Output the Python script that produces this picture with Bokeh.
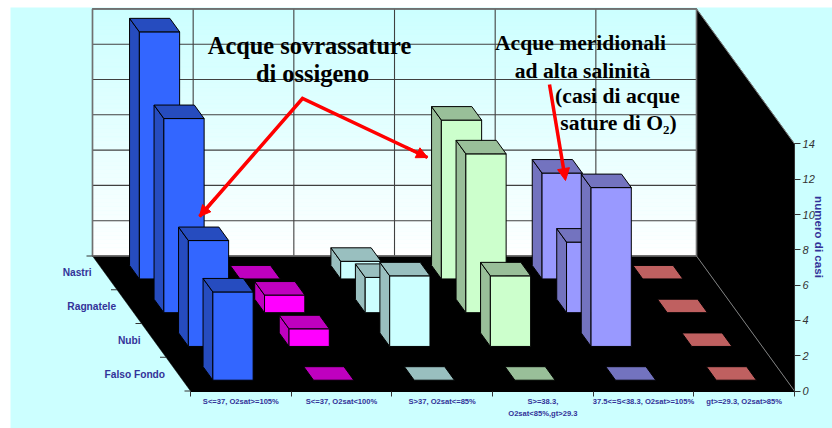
from bokeh.plotting import figure
from bokeh.models import Range1d, LinearAxis, FixedTicker, Arrow, NormalHead, ColumnDataSource
from bokeh.core.properties import value
from bokeh.embed import file_html
from bokeh.resources import INLINE
import math

categories = ["S<=37, O2sat>=105%", "S<=37, O2sat<100%", "S>37, O2sat<=85%",
              "S>=38.3,\nO2sat<85%,gt>29.3", "37.5<=S<38.3, O2sat>=105%", "gt>=29.3, O2sat>85%"]
rows = ["Falso Fondo", "Nubi", "Ragnatele", "Nastri"]
falso_fondo = [5, 0, 0, 0, 0, 0]
nubi = [6, 1, 4, 4, 9, 0]
ragnatele = [11, 1, 2, 9, 4, 0]
nastri = [14, 0, 1, 9, 6, 0]
series = [falso_fondo, nubi, ragnatele, nastri]
value_ticks = [0, 2, 4, 6, 8, 10, 12, 14]
front_colors = ["#3366FF", "#FF00FF", "#CCFFFF", "#CCFFCC", "#9999FF", "#FF8080"]
dark_colors = ["#264CBF", "#BF00BF", "#99BFBF", "#99BF99", "#7373BF", "#BF6060"]

# oblique projection: category position, depth row, value -> page pixels
X0, Y0 = 190.0, 390.5
CAT_W, ROW_DX, ROW_DY, UNIT = 100.67, 24.5, 33.75, 17.65
def px(c, d):
    return X0 + c * CAT_W - d * ROW_DX
def py(d, v):
    return Y0 - d * ROW_DY - v * UNIT

LEFT, TOP, RIGHT, BOTTOM = 10.0, 7.0, 832.0, 428.0
p = figure(width=822, height=421, output_backend="svg", toolbar_location=None,
           x_range=Range1d(LEFT, RIGHT), y_range=Range1d(BOTTOM, TOP),
           x_axis_type=None, y_axis_type=None,
           min_border_left=0, min_border_top=0, min_border_right=0, min_border_bottom=0)
p.margin = (7, 0, 0, 10)
p.background_fill_color = "#CCFFFF"
p.border_fill_color = "#CCFFFF"
p.outline_line_color = None

# scales for the real axes
p.extra_y_ranges["val"] = Range1d((Y0 - BOTTOM) / UNIT, (Y0 - TOP) / UNIT)
p.extra_x_ranges["cat"] = Range1d((LEFT - X0) / CAT_W, (RIGHT - X0) / CAT_W)

# back wall gradient
n = 60
D = len(rows)
for i in range(n):
    v0, v1 = 14 * i / n, 14 * (i + 1) / n
    f = (i + 0.5) / n
    r = int(round(255 - 51 * f))
    col = "#%02XFFFF" % r
    p.quad(left=px(0, D), right=px(6, D), bottom=py(D, v0), top=py(D, v1), fill_color=col, line_color=col, line_width=0.5)

# wall grid
for v in value_ticks:
    p.line([px(0, D), px(6, D)], [py(D, v), py(D, v)], line_color="#404040", line_width=1.1)
for c in range(7):
    p.line([px(c, D), px(c, D)], [py(D, 0), py(D, 14)], line_color="#404040", line_width=1.1)

# floor and side wall
p.patch([px(0, D), px(6, D), px(6, 0), px(0, 0)], [py(D, 0), py(D, 0), py(0, 0), py(0, 0)], fill_color="black", line_color="black", line_width=0.5)
p.patch([px(6, D), px(6, 0), px(6, 0), px(6, D)], [py(D, 14), py(0, 14), py(0, 0), py(D, 0)], fill_color="black", line_color="black", line_width=0.5)
p.line([px(0, D), px(6, D), px(6, D), px(0, D), px(0, D)], [py(D, 0), py(D, 0), py(D, 14), py(D, 14), py(D, 0)], line_color="#707070", line_width=1.6)
p.line([px(6, D), px(6, 0)], [py(D, 14), py(0, 14)], line_color="#808080", line_width=1)
p.line([px(6, D), px(6, 0)], [py(D, 0), py(0, 0)], line_color="#808080", line_width=1)

# bars
xs, ys, fills = [], [], []
W, DEP, D_OFF = 0.4, 0.4, 0.32
for r in range(len(rows) - 1, -1, -1):
    d0, d1 = r + D_OFF, r + D_OFF + DEP
    for c in range(len(categories)):
        v = series[r][c]
        c0, c1 = c + 0.5 - W / 2, c + 0.5 + W / 2
        if v > 0:
            xs.append([px(c0, d0), px(c0, d1), px(c0, d1), px(c0, d0)])
            ys.append([py(d0, 0), py(d1, 0), py(d1, v), py(d0, v)])
            fills.append(dark_colors[c])
            xs.append([px(c0, d0), px(c1, d0), px(c1, d0), px(c0, d0)])
            ys.append([py(d0, 0), py(d0, 0), py(d0, v), py(d0, v)])
            fills.append(front_colors[c])
        xs.append([px(c0, d0), px(c1, d0), px(c1, d1), px(c0, d1)])
        ys.append([py(d0, v), py(d0, v), py(d1, v), py(d1, v)])
        fills.append(dark_colors[c])
p.patches("xs", "ys", fill_color="fills", line_color="black", line_width=1,
          source=ColumnDataSource(dict(xs=xs, ys=ys, fills=fills)))

# value axis, fixed on the front edge of the side wall
ax = LinearAxis(y_range_name="val", bounds=(0, 14), ticker=FixedTicker(ticks=value_ticks),
                fixed_location=px(6, 0))
ax.axis_line_color = "#333333"
ax.major_tick_line_color = "#333333"
ax.major_tick_in = 0
ax.major_tick_out = 6
ax.minor_tick_line_color = None
ax.major_label_standoff = 2
ax.major_label_text_font = "Liberation Sans"
ax.major_label_text_font_style = "italic"
ax.major_label_text_font_size = "11px"
ax.major_label_text_color = "#333333"
p.add_layout(ax, "right")

# value axis title
p.text([819], [236.5], text=["numero di casi"], angle=[-math.pi / 2], text_font=value("Liberation Sans"),
       text_font_style="bold", text_font_size="11.6px", text_color="#333399",
       text_align="center", text_baseline="middle")

# category axis
first_lines = [t.split("\n")[0] for t in categories]
second_lines = {i + 0.5: t.split("\n")[1] for i, t in enumerate(categories) if "\n" in t}
cx = LinearAxis(x_range_name="cat", bounds=(0, 6), fixed_location=Y0,
                ticker=FixedTicker(ticks=[i + 0.5 for i in range(len(categories))], minor_ticks=list(range(7))))
cx.major_label_overrides = {i + 0.5: t for i, t in enumerate(first_lines)}
cx.axis_line_color = "black"
cx.major_tick_in = 0
cx.major_tick_out = 0
cx.minor_tick_in = 0
cx.minor_tick_out = 5
cx.minor_tick_line_color = "#333333"
cx.major_label_standoff = 1
cx.major_label_text_font = "Liberation Sans"
cx.major_label_text_font_style = "bold"
cx.major_label_text_font_size = "7.6px"
cx.major_label_text_color = "#333399"
p.add_layout(cx, "below")

cx2 = LinearAxis(x_range_name="cat", fixed_location=Y0 + 17, ticker=FixedTicker(ticks=list(second_lines)))
cx2.major_label_overrides = second_lines
cx2.axis_line_color = None
cx2.major_tick_line_color = None
cx2.minor_tick_line_color = None
cx2.major_tick_in = 0
cx2.major_tick_out = 0
cx2.major_label_standoff = 1
cx2.major_label_text_font = "Liberation Sans"
cx2.major_label_text_font_style = "bold"
cx2.major_label_text_font_size = "7.6px"
cx2.major_label_text_color = "#333399"
p.add_layout(cx2, "below")

# depth axis
for r in range(len(rows) + 1):
    p.line([px(0, r) - 6, px(0, r)], [py(r, 0), py(r, 0)], line_color="#333333", line_width=1)
p.text([px(0, r + 0.5) - 13.2 for r in range(len(rows))], [py(r + 0.5, 0) for r in range(len(rows))], text=rows,
       text_font=value("Liberation Sans"), text_font_style="bold", text_font_size="10.2px",
       text_color="#333399", text_align="right", text_baseline="middle")

# annotations
for x, y, t, s in [(309, 45, "Acque sovrassature", "24.4px"), (312, 73, "di ossigeno", "24.4px"),
                   (580, 42, "Acque meridionali", "21.6px"), (582, 70, "ad alta salinità", "21.6px"),
                   (617, 95, "(casi di acque", "21.6px"), (618, 122, "sature di O₂)", "21.6px")]:
    p.text([x], [y], text=[t], text_font=value("Liberation Serif"), text_font_style="bold", text_font_size=s,
           text_color="black", text_align="center", text_baseline="middle")

p.line([199, 302, 427], [216, 98, 157], line_color="red", line_width=3.5, line_join="miter")
p.add_layout(Arrow(end=NormalHead(size=11, fill_color="red", line_color="red"), x_start=215, y_start=197.5, x_end=199, y_end=216, line_color="red", line_width=3))
p.add_layout(Arrow(end=NormalHead(size=11, fill_color="red", line_color="red"), x_start=405, y_start=146.5, x_end=427, y_end=157, line_color="red", line_width=3))
p.add_layout(Arrow(end=NormalHead(size=12, fill_color="red", line_color="red"), x_start=549, y_start=84, x_end=565, y_end=180, line_color="red", line_width=3.5))

open("out.html", "w").write(file_html(p, INLINE))
